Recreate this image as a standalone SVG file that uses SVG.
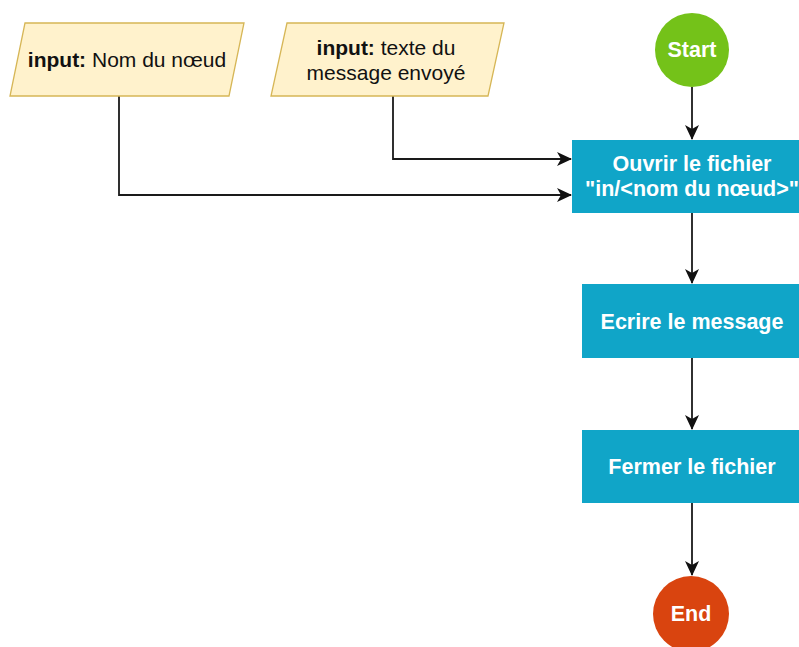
<svg xmlns="http://www.w3.org/2000/svg" width="799" height="647" viewBox="0 0 799 647">
<style>
.io{fill:#fff2cc;stroke:#d6b656;stroke-width:1.3}
.proc{fill:#10a5c8}
.t{font-family:"Liberation Sans",Arial,sans-serif;font-size:21px;fill:#111;text-anchor:middle}
.w{font-family:"Liberation Sans",Arial,sans-serif;font-size:21.5px;font-weight:bold;fill:#fff;text-anchor:middle}
.c{fill:none;stroke:#1a1a1a;stroke-width:1.8}
</style>
<defs>
<marker id="ah" markerWidth="16" markerHeight="14" refX="14" refY="7" orient="auto" markerUnits="userSpaceOnUse">
<path d="M0,0 L15,7 L0,14 L4,7 Z" fill="#111"/>
</marker>
</defs>
<rect width="799" height="647" fill="#fff"/>
<g id="connectors">
<path class="c" d="M119,96 V195 H571" marker-end="url(#ah)"/>
<path class="c" d="M393,96 V159 H571" marker-end="url(#ah)"/>
<path class="c" d="M692,87 V139" marker-end="url(#ah)"/>
<path class="c" d="M692,213 V283" marker-end="url(#ah)"/>
<path class="c" d="M692,358 V429" marker-end="url(#ah)"/>
<path class="c" d="M692,503 V575" marker-end="url(#ah)"/>
</g>
<g id="input1">
<polygon class="io" points="25,23 244,23 229,96 10,96"/>
<text class="t" x="127" y="67"><tspan font-weight="bold">input:</tspan> Nom du nœud</text>
</g>
<g id="input2">
<polygon class="io" points="287,23 504,23 488,96 271,96"/>
<text class="t" x="386" y="55"><tspan font-weight="bold">input:</tspan> texte du</text>
<text class="t" x="386" y="80">message envoyé</text>
</g>
<g id="start">
<circle cx="692" cy="50" r="37" fill="#74c219"/>
<text class="w" x="692" y="57" font-size="19">Start</text>
</g>
<g id="open">
<rect class="proc" x="572" y="140" width="240" height="73"/>
<text class="w" x="692" y="171">Ouvrir le fichier</text>
<text class="w" x="692" y="196">"in/&lt;nom du nœud&gt;"</text>
</g>
<g id="write">
<rect class="proc" x="582" y="284" width="220" height="74"/>
<text class="w" x="692" y="329">Ecrire le message</text>
</g>
<g id="close">
<rect class="proc" x="582" y="430" width="220" height="73"/>
<text class="w" x="692" y="474">Fermer le fichier</text>
</g>
<g id="end">
<circle cx="691" cy="614" r="38" fill="#d9440f"/>
<text class="w" x="691" y="621" font-size="19">End</text>
</g>
</svg>
